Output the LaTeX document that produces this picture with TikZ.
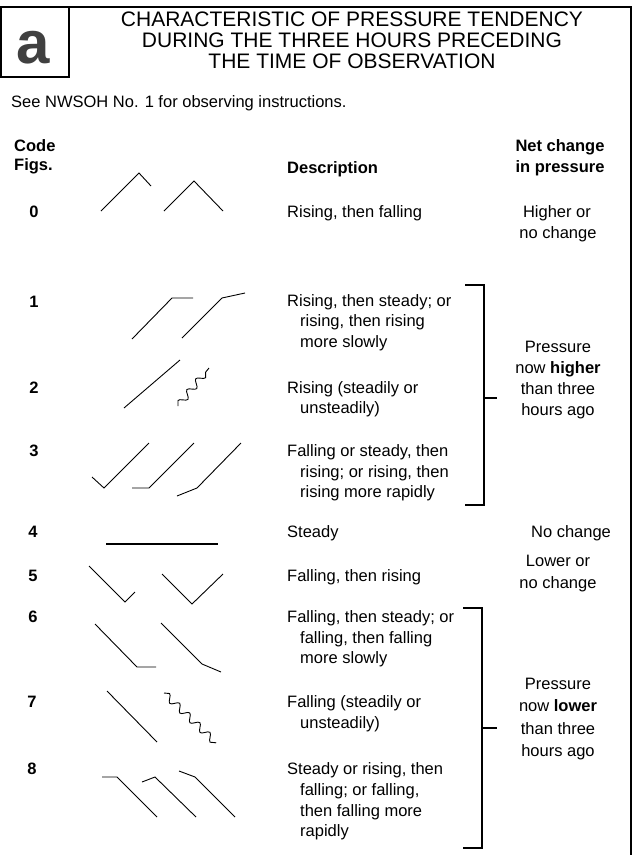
\documentclass[tikz,border=0pt]{standalone}
\usepackage{fontspec}
\setmainfont{Liberation Sans}
\usetikzlibrary{decorations.pathmorphing}
\begin{document}
\begin{tikzpicture}[x=1pt,y=-1pt,
 txt/.style={font=\fontsize{16.5}{20}\selectfont, inner sep=0pt, anchor=base west},
 ctxt/.style={font=\fontsize{16.5}{20}\selectfont, inner sep=0pt, anchor=base},
 bld/.style={font=\fontsize{16.5}{20}\selectfont\bfseries, inner sep=0pt, anchor=base west},
 cbld/.style={font=\fontsize{16.5}{20}\selectfont\bfseries, inner sep=0pt, anchor=base},
 ttl/.style={font=\fontsize{21}{24}\selectfont, inner sep=0pt, anchor=base},
 sym/.style={line width=0.9pt, line join=miter},
 brk/.style={line width=1.4pt},
 wav/.style={sym, decorate, decoration={snake, amplitude=3.5pt, segment length=14pt}},
]
\useasboundingbox[fill=white] (0,0) rectangle (634,855);
% frame
\draw[line width=1.5pt] (0,7) -- (632,7);
\draw[line width=2pt] (631,7) -- (631,855);
\draw[line width=1.5pt] (0.75,7) rectangle (69,77);
\node[font=\fontsize{60}{60}\selectfont\bfseries, text=black!75, inner sep=0pt] (a) at (33,47.5) {a};
% title
\node[ttl] (t1) at (352,26) {CHARACTERISTIC OF PRESSURE TENDENCY};
\node[ttl] (t2) at (352,47) {DURING THE THREE HOURS PRECEDING};
\node[ttl] (t3) at (352,68) {THE TIME OF OBSERVATION};
\node[txt] (see) at (11,107) {See NWSOH No. 1 for observing instructions.};
% headers
\node[bld] (h1) at (14,151) {Code};
\node[bld] (h2) at (14,170) {Figs.};
\node[bld] (h3) at (287,173) {Description};
\node[cbld] (h4) at (560,151) {Net change};
\node[cbld] (h5) at (560,172) {in pressure};
% code figures
\node[cbld] (c0) at (34,217) {0};
\node[cbld] (c1) at (34,307) {1};
\node[cbld] (c2) at (34,393) {2};
\node[cbld] (c3) at (34,456) {3};
\node[cbld] (c4) at (33,537) {4};
\node[cbld] (c5) at (33,581) {5};
\node[cbld] (c6) at (33,622) {6};
\node[cbld] (c7) at (32,707) {7};
\node[cbld] (c8) at (32,774) {8};
% descriptions
\node[txt] (d0) at (287,217) {Rising, then falling};
\node[txt] (d1a) at (287,306) {Rising, then steady; or};
\node[txt] (d1b) at (300,326) {rising, then rising};
\node[txt] (d1c) at (300,347) {more slowly};
\node[txt] (d2a) at (287,393) {Rising (steadily or};
\node[txt] (d2b) at (300,413) {unsteadily)};
\node[txt] (d3a) at (287,456) {Falling or steady, then};
\node[txt] (d3b) at (300,477) {rising; or rising, then};
\node[txt] (d3c) at (300,497) {rising more rapidly};
\node[txt] (d4) at (287,537) {Steady};
\node[txt] (d5) at (287,581) {Falling, then rising};
\node[txt] (d6a) at (287,622) {Falling, then steady; or};
\node[txt] (d6b) at (300,643) {falling, then falling};
\node[txt] (d6c) at (300,663) {more slowly};
\node[txt] (d7a) at (287,707) {Falling (steadily or};
\node[txt] (d7b) at (300,728) {unsteadily)};
\node[txt] (d8a) at (287,774) {Steady or rising, then};
\node[txt] (d8b) at (300,795) {falling; or falling,};
\node[txt] (d8c) at (300,816) {then falling more};
\node[txt] (d8d) at (300,836) {rapidly};
% net change
\node[ctxt] (n0a) at (557,217) {Higher or};
\node[ctxt] (n0b) at (558,238) {no change};
\node[ctxt] (nha) at (558,352) {Pressure};
\node[ctxt] (nhb) at (558,373) {now \textbf{higher}};
\node[ctxt] (nhc) at (558,394) {than three};
\node[ctxt] (nhd) at (558,415) {hours ago};
\node[ctxt] (n4) at (571,537) {No change};
\node[ctxt] (n5a) at (558,566) {Lower or};
\node[ctxt] (n5b) at (558,588) {no change};
\node[ctxt] (nla) at (558,689) {Pressure};
\node[ctxt] (nlb) at (558,711) {now \textbf{lower}};
\node[ctxt] (nlc) at (558,734) {than three};
\node[ctxt] (nld) at (558,756) {hours ago};
% brackets
\draw[brk] (465,285) -- (484,285) -- (484,505) -- (465,505);
\draw[brk] (484,398) -- (497,398);
\draw[brk] (463,608) -- (482,608) -- (482,848) -- (463,848);
\draw[brk] (482,728) -- (497,728);
% symbols
% 0
\draw[sym] (101,211) -- (139,173) -- (151,186);
\draw[sym] (164,211) -- (194,181) -- (223,211);
% 1
\draw[sym] (132,339) -- (172,298) -- (193,298);
\draw[sym] (182,338) -- (222,298) -- (245,293);
% 2
\draw[sym] (124,408) -- (180,360);
\draw[wav] (178,406) -- (209,368);
% 3
\draw[sym] (92,477) -- (104,488) -- (149,443);
\draw[sym] (132,488) -- (149,488) -- (194,443);
\draw[sym] (177,496) -- (197,488) -- (241,443);
% 4
\draw[line width=1.4pt] (106,544) -- (218,544);
% 5
\draw[sym] (89,566) -- (125,602) -- (135,592);
\draw[sym] (162,574) -- (192,604) -- (223,574);
% 6
\draw[sym] (95,624) -- (137,667) -- (156,667);
\draw[sym] (161,623) -- (202,664) -- (221,672);
% 7
\draw[sym] (107,691) -- (157,742);
\draw[wav] (164,693) -- (216,743);
% 8
\draw[sym] (102,777) -- (117,777) -- (157,817);
\draw[sym] (142,782) -- (155,777) -- (196,817);
\draw[sym] (179,771) -- (195,777) -- (235,817);
\end{tikzpicture}
\end{document}
